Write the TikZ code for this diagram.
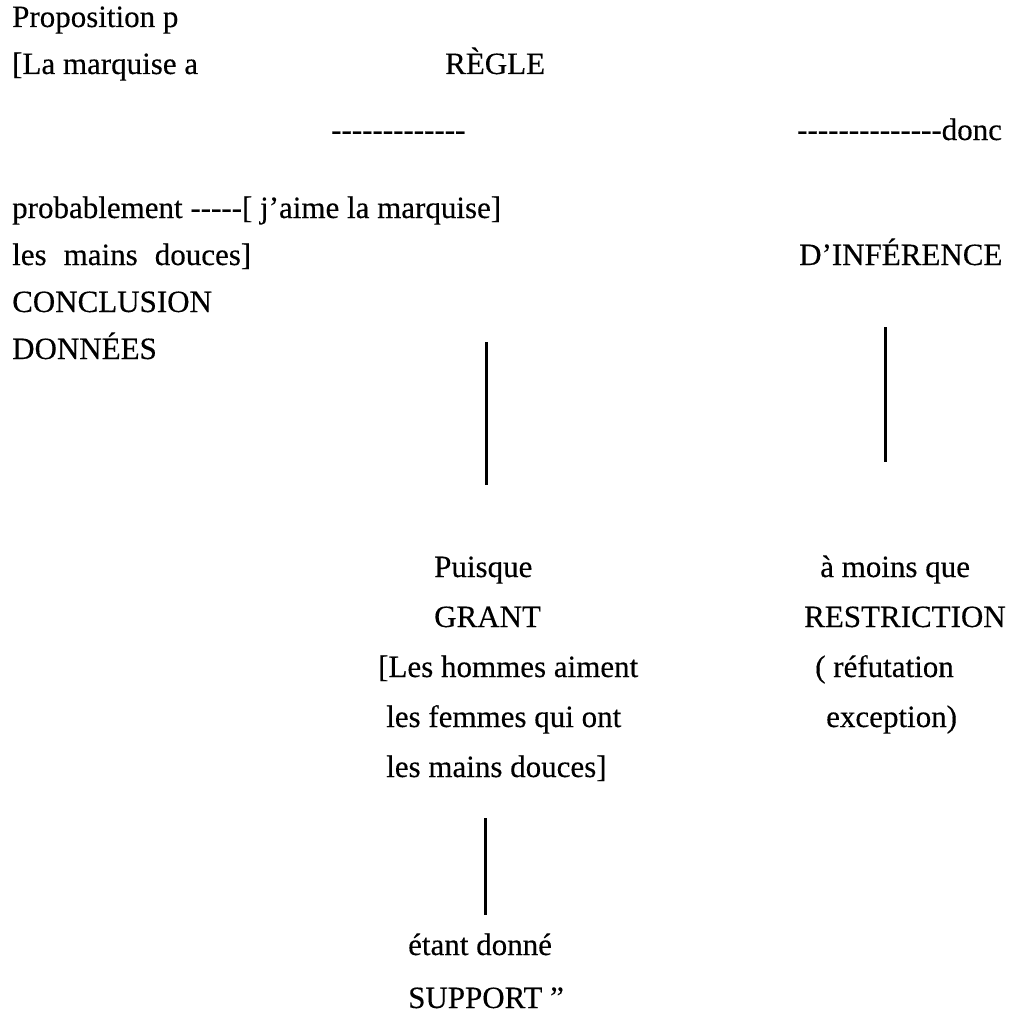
\documentclass[tikz,border=0pt]{standalone}
\usepackage{fontspec}
\setmainfont{Liberation Serif}[FakeBold=0.3]
\newcommand\hy{-\kern0pt}
\begin{document}
\begin{tikzpicture}[x=1pt,y=-1pt,
  txt/.style={anchor=base west, inner sep=0pt, font=\fontsize{31}{37}\selectfont},
  vline/.style={line width=3pt}]
\useasboundingbox[fill=white] (0,0) rectangle (1019,1014);
% left column
\node[txt] (prop) at (12,27) {Proposition p};
\node[txt] (marq) at (12,74) {[La marquise a};
\node[txt] (regle) at (445,74) {RÈGLE};
\node[txt] (dash1) at (331,140) {\hy\hy\hy\hy\hy\hy\hy\hy\hy\hy\hy\hy\hy};
\node[txt] (donc) at (797,140) {\hy\hy\hy\hy\hy\hy\hy\hy\hy\hy\hy\hy\hy\hy donc};
\node[txt] (prob) at (12,218) {probablement \hy\hy\hy\hy\hy[ j’aime la marquise]};
\node[txt] (mains) at (12,265) {les\hspace{0.55em}mains\hspace{0.55em}douces]};
\node[txt] (infer) at (799,265) {D’INFÉRENCE};
\node[txt] (concl) at (12,312) {CONCLUSION};
\node[txt] (donn) at (12,359) {DONNÉES};
% grant block
\node[txt] (puis) at (434,577) {Puisque};
\node[txt] (grant) at (434,627) {GRANT};
\node[txt] (hom) at (378,677) {[Les hommes aiment};
\node[txt] (fem) at (386,727) {les femmes qui ont};
\node[txt] (mains2) at (386,777) {les mains douces]};
% restriction block
\node[txt] (moins) at (820,577) {à moins que};
\node[txt] (restr) at (804,627) {RESTRICTION};
\node[txt] (refut) at (815,677) {( réfutation};
\node[txt] (excep) at (826,727) {exception)};
% support block
\node[txt] (etant) at (408,955) {étant donné};
\node[txt] (supp) at (408,1008) {SUPPORT ”};
% vertical lines
\coordinate (a1) at (486,342); \coordinate (a2) at (486,485);
\coordinate (b1) at (885,327); \coordinate (b2) at (885,462);
\coordinate (c1) at (485,818); \coordinate (c2) at (485,915);
\draw[vline] (a1) -- (a2);
\draw[vline] (b1) -- (b2);
\draw[vline] (c1) -- (c2);
\end{tikzpicture}
\end{document}
